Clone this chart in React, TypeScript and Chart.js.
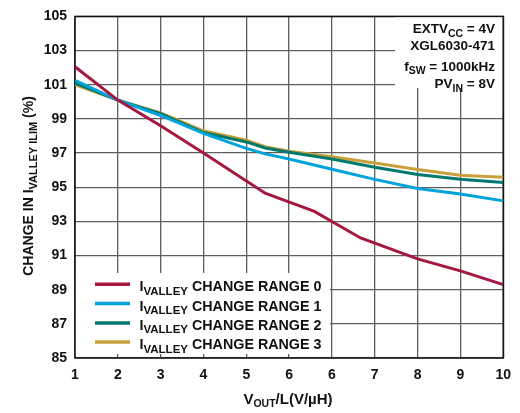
import React, { useEffect, useRef } from "react";
import { Chart, registerables } from "chart.js";

Chart.register(...registerables);

// Axis tick labels (the printed scale repeats "6")
const xTickLabels = ["1", "2", "3", "4", "5", "6", "6", "7", "8", "9", "10"];
const yMin = 85;
const yMax = 105;
const yStep = 2;

// Series, x given in grid-column units (0 = first column, 10 = last)
const range0X = [0, 1, 2, 3, 4.44, 5.59, 6.67, 8, 9, 10];
const range0Y = [102.05, 100.1, 98.6, 97.0, 94.65, 93.58, 92.03, 90.8, 90.1, 89.3];

const range1X = [0, 1, 2, 3, 4, 4.44, 5, 6, 7, 8, 9, 10];
const range1Y = [101.25, 100.1, 99.2, 98.15, 97.27, 96.95, 96.65, 96.05, 95.46, 94.92, 94.6, 94.2];

const range2X = [0, 1, 2, 3, 4, 4.44, 5, 6, 7, 8, 9, 10];
const range2Y = [101.1, 100.1, 99.3, 98.2, 97.65, 97.3, 97.05, 96.65, 96.17, 95.75, 95.46, 95.27];

const range3X = [0, 1, 2, 3, 4, 4.44, 5, 6, 7, 8, 9, 10];
const range3Y = [101.0, 100.1, 99.35, 98.3, 97.75, 97.37, 97.1, 96.78, 96.42, 96.04, 95.7, 95.58];

const seriesNames = ["CHANGE RANGE 0", "CHANGE RANGE 1", "CHANGE RANGE 2", "CHANGE RANGE 3"];
const seriesColors = ["#A5183F", "#00A3DC", "#00786E", "#C9A03A"];

const FONT = '"Liberation Sans", Arial, Helvetica, sans-serif';

type Seg = { t: string; sub?: boolean };

function drawRich(
  ctx: CanvasRenderingContext2D,
  segs: Seg[],
  x: number,
  y: number,
  align: "left" | "right" | "center",
  size: number,
  subSize: number,
  subDrop: number
) {
  const fontOf = (s: Seg) => `bold ${s.sub ? subSize : size}px ${FONT}`;
  let total = 0;
  for (const s of segs) {
    ctx.font = fontOf(s);
    total += ctx.measureText(s.t).width;
  }
  let cx = align === "right" ? x - total : align === "center" ? x - total / 2 : x;
  ctx.textAlign = "left";
  ctx.textBaseline = "alphabetic";
  for (const s of segs) {
    ctx.font = fontOf(s);
    ctx.fillText(s.t, cx, s.sub ? y + subDrop : y);
    cx += ctx.measureText(s.t).width;
  }
}

const toPoints = (xs: number[], ys: number[]) => xs.map((x, i) => ({ x, y: ys[i] }));

const decorations = {
  id: "decorations",
  beforeDatasetsDraw(chart: any) {
    const { ctx, chartArea: a } = chart;
    ctx.save();
    // white panels behind the legend and the condition notes
    ctx.fillStyle = "#ffffff";
    ctx.fillRect(a.left, 273, 330 - a.left, 354 - 273);
    ctx.fillRect(395, a.top, 504 - 395, 88 - a.top);
    // plot frame
    ctx.strokeStyle = "#111111";
    ctx.lineWidth = 1.5;
    ctx.strokeRect(a.left, a.top, a.right - a.left, a.bottom - a.top);
    ctx.restore();
  },
  afterDatasetsDraw(chart: any) {
    const { ctx } = chart;
    ctx.save();
    ctx.fillStyle = "#111111";

    // condition notes
    drawRich(ctx, [{ t: "EXTV" }, { t: "CC", sub: true }, { t: " = 4V" }], 495, 33.3, "right", 13.5, 10.5, 3.5);
    drawRich(ctx, [{ t: "XGL6030-471" }], 495, 50, "right", 13.5, 10.5, 3.5);
    drawRich(ctx, [{ t: "f" }, { t: "SW", sub: true }, { t: " = 1000kHz" }], 495, 70.5, "right", 13.5, 10.5, 3.5);
    drawRich(ctx, [{ t: "PV" }, { t: "IN", sub: true }, { t: " = 8V" }], 495, 88, "right", 13.5, 10.5, 3.5);

    // legend
    const rowY = [284.3, 303.6, 322.9, 342.1];
    for (let i = 0; i < seriesNames.length; i++) {
      ctx.strokeStyle = seriesColors[i];
      ctx.lineWidth = 3.5;
      ctx.beginPath();
      ctx.moveTo(95, rowY[i]);
      ctx.lineTo(130, rowY[i]);
      ctx.stroke();
      ctx.fillStyle = "#111111";
      drawRich(
        ctx,
        [{ t: "I" }, { t: "VALLEY", sub: true }, { t: " " + seriesNames[i] }],
        139.5,
        rowY[i] + 7,
        "left",
        14.3,
        11.5,
        3.5
      );
    }
    ctx.restore();
  },
  afterDraw(chart: any) {
    const { ctx } = chart;
    ctx.save();
    ctx.fillStyle = "#111111";
    // x-axis title
    drawRich(ctx, [{ t: "V" }, { t: "OUT", sub: true }, { t: "/L(V/µH)" }], 288, 403.5, "center", 15, 10.5, 3.5);
    // y-axis title
    ctx.translate(33, 186);
    ctx.rotate(-Math.PI / 2);
    drawRich(
      ctx,
      [{ t: "CHANGE IN I" }, { t: "VALLEY ILIM", sub: true }, { t: " (%)" }],
      0,
      0,
      "center",
      14,
      11,
      3.5
    );
    ctx.restore();
  },
};

export default function App() {
  const canvasRef = useRef<HTMLCanvasElement | null>(null);

  useEffect(() => {
    const canvas = canvasRef.current;
    if (!canvas) return;
    const xsList = [range0X, range1X, range2X, range3X];
    const ysList = [range0Y, range1Y, range2Y, range3Y];
    const chart = new Chart(canvas, {
      type: "line",
      data: {
        datasets: seriesNames.map((name, i) => ({
          label: "IVALLEY " + name,
          data: toPoints(xsList[i], ysList[i]),
          borderColor: seriesColors[i],
          backgroundColor: seriesColors[i],
          borderWidth: 3,
          pointRadius: 0,
          tension: 0,
          fill: false,
          order: i,
        })),
      },
      options: {
        animation: false,
        responsive: true,
        maintainAspectRatio: false,
        layout: { padding: { top: 13, right: 13, left: 0, bottom: 0 } },
        plugins: {
          legend: { display: false },
          tooltip: { enabled: false },
        },
        scales: {
          x: {
            type: "linear",
            min: 0,
            max: 10,
            border: { display: false },
            grid: { color: "#5e5e5e", lineWidth: 1.3, drawTicks: false },
            ticks: {
              stepSize: 1,
              autoSkip: false,
              maxRotation: 0,
              padding: 9,
              color: "#111111",
              font: { family: FONT, size: 14, weight: "bold" },
              callback: (v: any) => xTickLabels[Math.round(Number(v))] ?? "",
            },
            afterFit: (s: any) => {
              s.height = 55;
            },
          },
          y: {
            min: yMin,
            max: yMax,
            border: { display: false },
            grid: { color: "#5e5e5e", lineWidth: 1.3, drawTicks: false },
            ticks: {
              stepSize: yStep,
              padding: 8,
              color: "#111111",
              font: { family: FONT, size: 14, weight: "bold" },
            },
            afterFit: (s: any) => {
              s.width = 75;
            },
          },
        },
      },
      plugins: [decorations],
    });
    return () => chart.destroy();
  }, []);

  return (
    <div style={{ position: "fixed", left: 0, top: 0, width: 520, height: 413, background: "#fff" }}>
      <canvas ref={canvasRef} />
    </div>
  );
}
